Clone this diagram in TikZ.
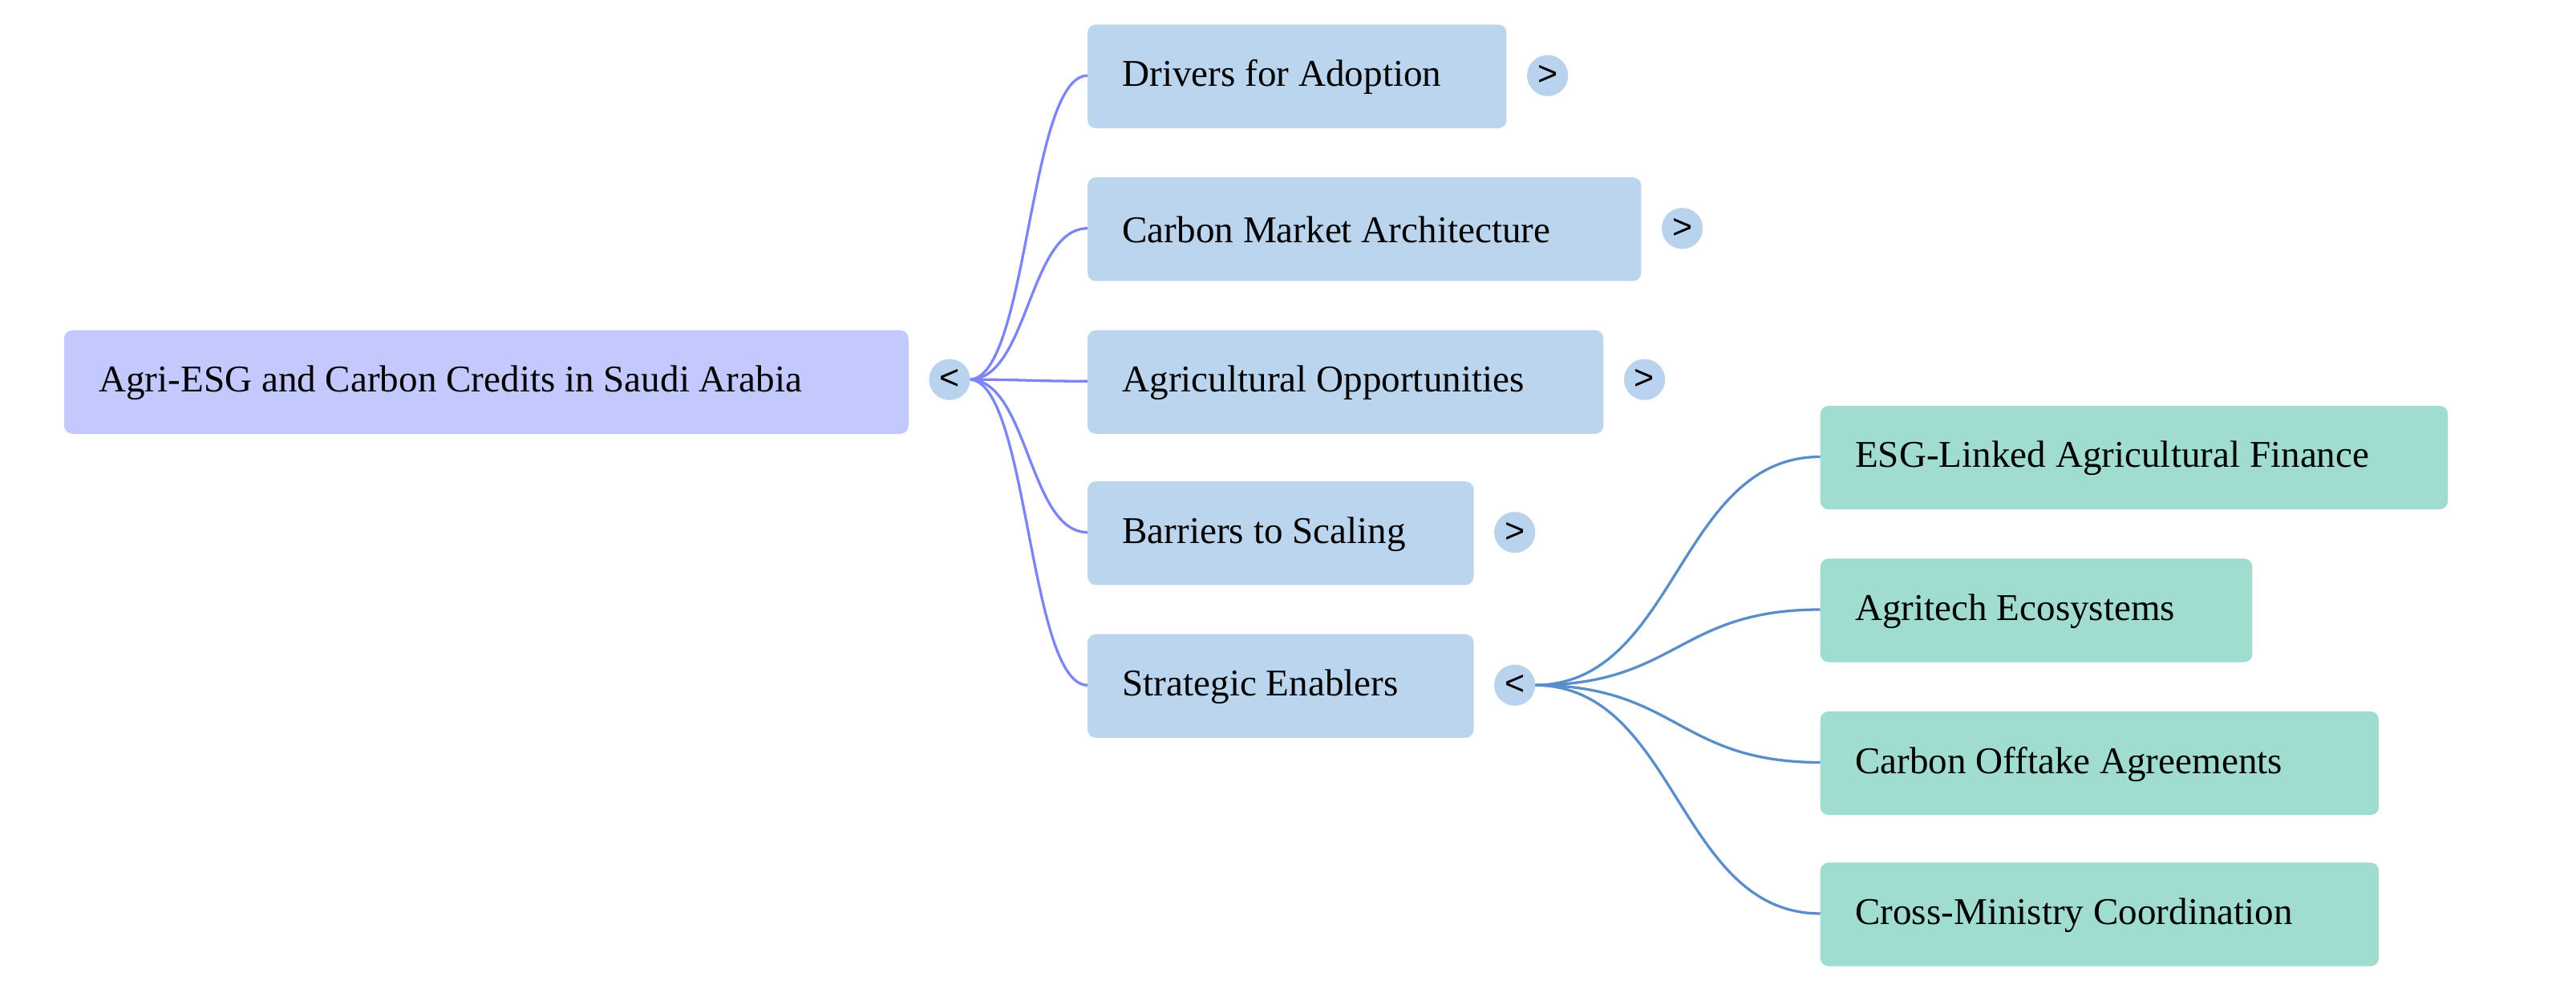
\documentclass[tikz,border=0pt]{standalone}
\usepackage{fontspec}
\setmainfont{Liberation Serif}
\newfontfamily\togfont{Liberation Sans}
\begin{document}
\begin{tikzpicture}[x=1pt,y=-1pt,
  lbl/.style={anchor=west,inner sep=0pt,font=\fontsize{23}{27}\selectfont},
  tog/.style={circle,fill=tog,inner sep=0pt,minimum size=25pt,font=\togfont\fontsize{21}{24}\selectfont},
  e1/.style={draw=edgeA,line width=1.6pt},
  e2/.style={draw=edgeB,line width=1.6pt}]
\definecolor{rootc}{HTML}{C3C8FD}
\definecolor{childc}{HTML}{BBD5EE}
\definecolor{gc}{HTML}{A1DCD0}
\definecolor{tog}{HTML}{B9D2EE}
\definecolor{edgeA}{HTML}{7B86F2}
\definecolor{edgeB}{HTML}{5A8ECB}
\useasboundingbox[fill=white] (0,0) rectangle (1568,604);
% root
\fill[rootc,rounded corners=5pt] (39,201) rectangle (553,264);
\node[lbl] (root) at (60,233) {Agri-ESG and Carbon Credits in Saudi Arabia};
\coordinate (s0) at (590,231);
% children
\foreach \n/\xa/\ya/\t in {1/917/15/Drivers for Adoption,2/999/108/Carbon Market Architecture,3/976/201/Agricultural Opportunities,4/897/293/Barriers to Scaling,5/897/386/Strategic Enablers}{
  \fill[childc,rounded corners=5pt] (662,\ya) rectangle (\xa,\ya+63);
  \node[lbl] (c\n) at (683,\ya+32) {\t};
  \coordinate (cl\n) at (662,\ya+31);
  \draw[e1] (s0) .. controls (626,231) and (626,\ya+31) .. (cl\n);
}
\coordinate (s5) at (934,417);
% grandchildren
\foreach \n/\xa/\ya/\t in {1/1490/247/ESG-Linked Agricultural Finance,2/1371/340/Agritech Ecosystems,3/1448/433/Carbon Offtake Agreements,4/1448/525/Cross-Ministry Coordination}{
  \fill[gc,rounded corners=5pt] (1108,\ya) rectangle (\xa,\ya+63);
  \node[lbl] (g\n) at (1129,\ya+32) {\t};
  \coordinate (gl\n) at (1108,\ya+31);
  \draw[e2] (s5) .. controls (1021,417) and (1021,\ya+31) .. (gl\n);
}
\node[tog] (t0) at (578,231) {<};
\node[tog] (t1) at (942,46) {>};
\node[tog] (t2) at (1024,139) {>};
\node[tog] (t3) at (1001,231) {>};
\node[tog] (t4) at (922,324) {>};
\node[tog] (t5) at (922,417) {<};
\end{tikzpicture}
\end{document}
